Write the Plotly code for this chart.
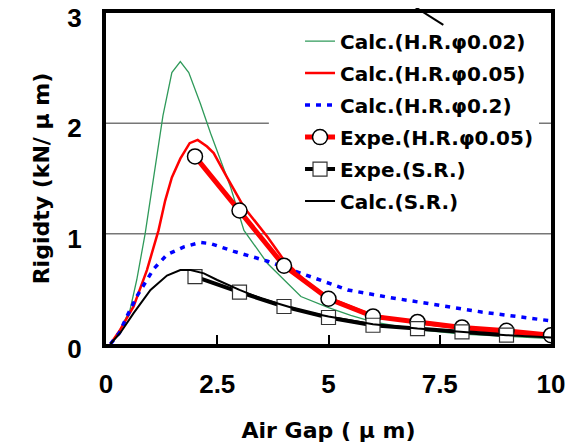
import plotly.graph_objects as go

# ---- data ----
calc_hr002_x = [0.1, 0.32, 0.54, 0.69, 0.88, 1.03, 1.28, 1.48, 1.67, 1.86, 2.12, 2.35, 2.8, 3.1, 3.63, 4.38, 5.0, 5.5, 6.0, 7.0, 8.0, 9.0, 10.0]
calc_hr002_y = [0, 0.13, 0.31, 0.58, 1.0, 1.39, 2.07, 2.46, 2.56, 2.46, 2.18, 1.91, 1.42, 1.03, 0.73, 0.43, 0.33, 0.26, 0.2, 0.13, 0.09, 0.07, 0.05]

calc_hr005_x = [0.1, 0.32, 0.62, 0.92, 1.18, 1.33, 1.48, 1.67, 1.88, 2.06, 2.27, 2.42, 2.72, 3.1, 3.63, 4.0, 4.53, 5.0, 6.0, 7.0, 8.0, 9.0, 10.0]
calc_hr005_y = [0, 0.13, 0.34, 0.67, 1.03, 1.3, 1.51, 1.68, 1.82, 1.85, 1.79, 1.73, 1.51, 1.24, 0.97, 0.76, 0.55, 0.42, 0.26, 0.19, 0.14, 0.1, 0.07]

calc_hr02_x = [0.1, 0.3, 0.47, 0.69, 1.07, 1.37, 1.75, 2.12, 2.35, 2.87, 3.63, 4.38, 4.9, 5.43, 6.4, 7.3, 8.44, 9.8, 10.0]
calc_hr02_y = [0, 0.1, 0.25, 0.43, 0.68, 0.81, 0.88, 0.92, 0.91, 0.84, 0.75, 0.64, 0.56, 0.49, 0.42, 0.36, 0.29, 0.22, 0.21]

expe_hr005_x = [2, 3, 4, 5, 6, 7, 8, 9, 10]
expe_hr005_y = [1.70, 1.21, 0.71, 0.41, 0.25, 0.20, 0.15, 0.12, 0.08]

expe_sr_x = [2, 3, 4, 5, 6, 7, 8, 9]
expe_sr_y = [0.61, 0.47, 0.34, 0.24, 0.17, 0.14, 0.11, 0.08]

calc_sr_x = [0.1, 0.32, 0.62, 1.0, 1.37, 1.67, 1.9, 2.2, 2.5, 3.0, 3.5, 4.0, 4.5, 5.0, 6.0, 7.0, 8.0, 9.0, 10.0]
calc_sr_y = [0, 0.1, 0.28, 0.49, 0.62, 0.67, 0.67, 0.64, 0.58, 0.49, 0.41, 0.35, 0.29, 0.25, 0.18, 0.14, 0.11, 0.08, 0.06]

x_ticks = [0, 2.5, 5, 7.5, 10]
x_tick_labels = ["0", "2.5", "5", "7.5", "10"]
y_ticks = [0, 1, 2, 3]
y_tick_labels = ["0", "1", "2", "3"]
y_grid_values = [1, 2]

names = ["Calc.(H.R.φ0.02)", "Calc.(H.R.φ0.05)", "Calc.(H.R.φ0.2)",
         "Expe.(H.R.φ0.05)", "Expe.(S.R.)", "Calc.(S.R.)"]

FONT = "DejaVu Sans, Noto Sans CJK JP, sans-serif"
TICKFONT = "Liberation Sans, sans-serif"

fig = go.Figure()
fig.add_trace(go.Scatter(x=calc_hr002_x, y=calc_hr002_y, mode="lines", name=names[0],
                         legendgroup="a", line=dict(color="#2f9a5a", width=1.3)))
fig.add_trace(go.Scatter(x=calc_hr005_x, y=calc_hr005_y, mode="lines", name=names[1],
                         legendgroup="b", line=dict(color="#ff0000", width=2.5)))
fig.add_trace(go.Scatter(x=calc_hr02_x, y=calc_hr02_y, mode="lines", name=names[2],
                         legendgroup="c", line=dict(color="#0000ff", width=3.5, dash="5px,6px")))
fig.add_trace(go.Scatter(x=expe_hr005_x, y=expe_hr005_y, mode="lines+markers", name=names[3],
                         legendgroup="d", line=dict(color="#ff0000", width=5),
                         marker=dict(symbol="circle", size=15, color="white",
                                     line=dict(color="black", width=1.5))))
fig.add_trace(go.Scatter(x=expe_sr_x, y=expe_sr_y, mode="lines+markers", name=names[4],
                         legendgroup="e", line=dict(color="black", width=4),
                         marker=dict(symbol="square", size=14, color="white",
                                     line=dict(color="#333333", width=1.2))))
fig.add_trace(go.Scatter(x=calc_sr_x, y=calc_sr_y, mode="lines", name=names[5],
                         legendgroup="f", line=dict(color="black", width=2)))

# horizontal grid lines (drawn as shapes so the legend panel can interrupt them)
shapes = [dict(type="line", xref="paper", yref="y", x0=0, x1=1, y0=g, y1=g,
               line=dict(color="#777777", width=1.5), layer="below") for g in y_grid_values]
shapes += [
    # white panel behind the legend
    dict(type="rect", xref="paper", yref="paper", x0=0.366, x1=0.973, y0=0.375, y1=0.955,
         fillcolor="white", line=dict(width=0), layer="below"),
    dict(type="line", xref="paper", yref="paper", x0=0.670, y0=1.039, x1=0.758, y1=0.964,
         line=dict(color="black", width=2), layer="above"),
]

fig.update_layout(
    width=565, height=440,
    margin=dict(l=98, r=22, t=5, b=104, autoexpand=False),
    paper_bgcolor="white", plot_bgcolor="white",
    font=dict(family=FONT, color="black"),
    showlegend=True,
    legend=dict(x=0.436, y=0.974, xanchor="left", yanchor="top",
                bgcolor="rgba(0,0,0,0)", borderwidth=0, tracegroupgap=3,
                font=dict(family=FONT, size=20, color="black", weight="bold")),
    xaxis=dict(range=[0, 10], tickvals=x_ticks, ticktext=x_tick_labels,
               ticks="inside", ticklen=9, tickwidth=1.5, tickcolor="black",
               showgrid=False, zeroline=False, automargin=False,
               showline=True, mirror=True, linewidth=4, linecolor="black",
               tickfont=dict(family=TICKFONT, size=26, weight="bold"),
               ticklabelstandoff=14, ticklabeloverflow="allow",
               title=dict(text="Air Gap ( μ m)", font=dict(family=FONT, size=22, weight="bold"),
                          standoff=25)),
    yaxis=dict(range=[0, 3], tickvals=y_ticks, ticktext=y_tick_labels, ticks="",
               showgrid=False, zeroline=False, automargin=False,
               showline=True, mirror=True, linewidth=4, linecolor="black",
               tickfont=dict(family=TICKFONT, size=26, weight="bold"),
               ticklabelstandoff=15, ticklabelshift=5, ticklabeloverflow="allow",
               title=dict(text="Rigidty (kN/ μ m)", font=dict(family=FONT, size=22, weight="bold"),
                          standoff=13)),
    shapes=shapes,
)

fig.write_html("out.html")
